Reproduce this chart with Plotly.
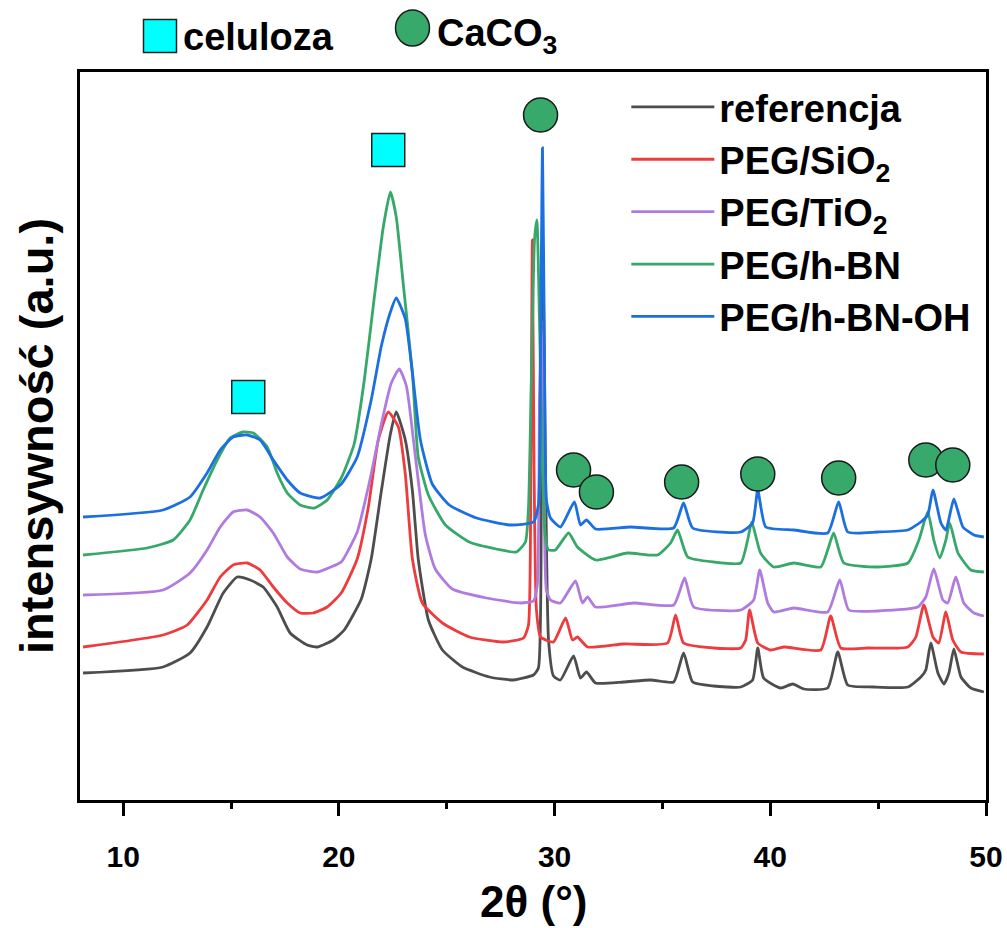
import plotly.graph_objects as go

# ---- data (2theta in degrees, intensity in a.u.) ----
ref_x = [8.14, 11.85, 13.10, 13.89, 14.64, 15.29, 15.89, 16.49, 17.14, 17.74, 18.53, 19.00, 19.74,
         20.25, 21.04, 21.50, 21.97, 22.39, 22.66, 23.08, 23.41, 23.68, 24.15, 24.80, 25.73, 26.98,
         28.09, 29.02, 29.25, 29.39, 29.48, 29.58, 29.72, 29.95, 30.27, 30.88, 31.20, 31.48, 31.90,
         33.20, 34.45, 35.52, 35.98, 36.40, 37.37, 38.63, 39.18, 39.42, 39.69, 40.48, 41.04, 41.55,
         42.66, 43.13, 43.59, 44.80, 46.38, 46.98, 47.21, 47.44, 47.77, 48.05, 48.28, 48.51, 48.84,
         49.30, 49.90]
ref_y = [127, 133, 147, 173, 207, 223, 220, 213, 193, 167, 155, 153, 160,
         170, 201, 241, 309, 366, 388, 360, 309, 241, 180, 150, 133, 123,
         120, 125, 132, 330, 520, 330, 160, 124, 120, 144, 122, 128, 117,
         118, 120, 118, 147, 118, 114, 113, 120, 152, 122, 112, 116, 111,
         112, 148, 115, 113, 113, 123, 130, 157, 127, 116, 127, 151, 123,
         112, 108]

sio2_x = [8.14, 11.85, 12.97, 13.89, 14.50, 15.10, 15.75, 16.35, 16.96, 17.61, 18.21, 18.81, 19.46,
          20.11, 20.85, 21.36, 21.83, 22.29, 22.76, 23.08, 23.41, 23.87, 24.80, 26.05, 27.63, 28.56,
          28.79, 28.90, 28.97, 29.05, 29.16, 29.35, 29.95, 30.51, 30.83, 31.06, 31.53, 33.20, 35.24,
          35.61, 35.98, 37.37, 38.63, 38.86, 39.04, 39.42, 40.02, 40.62, 42.34, 42.80, 43.27, 44.52,
          46.38, 46.75, 47.12, 47.54, 47.81, 48.14, 48.46, 48.84, 49.90]
sio2_y = [153, 165, 175, 200, 223, 235, 237, 230, 213, 197, 187, 187, 193,
          207, 241, 292, 360, 388, 373, 326, 241, 197, 177, 163, 158, 162,
          175, 330, 560, 330, 190, 163, 158, 182, 160, 163, 153, 156, 157,
          185, 157, 152, 152, 160, 190, 157, 150, 153, 150, 184, 152, 152,
          153, 163, 195, 163, 157, 188, 160, 148, 146]

tio2_x = [8.14, 11.85, 13.10, 13.89, 14.50, 15.10, 15.75, 16.35, 16.96, 17.61, 18.21, 19.00, 19.74,
          20.11, 20.85, 21.50, 21.97, 22.43, 22.80, 23.13, 23.55, 24.01, 24.47, 25.26, 26.84, 28.42,
          29.02, 29.20, 29.30, 29.39, 29.48, 29.62, 29.81, 30.27, 30.97, 31.29, 31.53, 31.90, 33.66,
          35.52, 36.03, 36.45, 38.63, 39.23, 39.51, 39.88, 40.16, 41.09, 42.66, 43.22, 43.64, 44.98,
          46.84, 47.21, 47.58, 48.00, 48.23, 48.60, 48.97, 49.44, 49.90]
tio2_y = [205, 210, 227, 250, 273, 288, 290, 283, 267, 243, 231, 228, 234,
          238, 268, 326, 376, 417, 431, 414, 343, 265, 231, 211, 202, 197,
          199, 215, 400, 480, 400, 210, 200, 197, 219, 197, 203, 193, 197,
          195, 222, 193, 190, 200, 230, 197, 188, 192, 188, 220, 190, 189,
          193, 203, 231, 200, 197, 223, 197, 187, 184]

hbn_x = [8.14, 11.11, 12.32, 13.10, 13.71, 14.36, 14.96, 15.56, 16.03, 16.68, 17.14, 17.61, 18.21,
         18.86, 19.46, 20.11, 20.71, 21.18, 21.64, 22.06, 22.39, 22.66, 22.99, 23.41, 23.68, 24.15,
         24.94, 26.05, 27.30, 28.23, 28.65, 28.79, 28.95, 29.07, 29.18, 29.30, 29.44, 29.58, 29.72,
         30.04, 30.65, 31.06, 31.90, 33.38, 34.77, 35.38, 35.70, 36.17, 37.37, 38.63, 38.95, 39.14,
         39.55, 40.16, 41.09, 42.34, 42.66, 42.94, 43.41, 44.98, 46.38, 46.89, 47.30, 47.58, 47.86,
         48.14, 48.32, 48.70, 49.30, 49.90]
hbn_y = [245, 252, 260, 280, 310, 340, 362, 368, 367, 353, 327, 307, 295,
         292, 300, 322, 356, 420, 502, 573, 608, 583, 515, 427, 343, 305,
         275, 258, 251, 248, 258, 292, 450, 560, 580, 480, 330, 262, 250,
         250, 267, 253, 240, 247, 245, 257, 270, 243, 238, 237, 260, 278,
         247, 233, 237, 233, 250, 267, 237, 233, 237, 260, 288, 260, 242,
         260, 277, 247, 230, 228]

hbnoh_x = [8.14, 11.85, 13.10, 13.89, 14.50, 15.10, 15.75, 16.35, 16.96, 17.61, 18.21, 19.14, 20.11,
           20.85, 21.50, 21.97, 22.39, 22.66, 23.08, 23.41, 23.78, 24.33, 25.12, 26.38, 27.95, 29.02,
           29.25, 29.35, 29.44, 29.53, 29.62, 29.81, 30.27, 30.92, 31.20, 31.48, 31.90, 33.52, 35.52,
           35.98, 36.40, 38.63, 39.18, 39.42, 39.79, 41.09, 42.66, 43.17, 43.59, 44.98, 46.38, 46.98,
           47.30, 47.54, 47.91, 48.14, 48.51, 48.93, 49.44, 49.90]
hbnoh_y = [283, 290, 303, 327, 350, 363, 365, 360, 340, 320, 307, 302, 316,
           343, 400, 454, 488, 502, 481, 427, 360, 316, 295, 282, 275, 278,
           295, 450, 652, 450, 300, 282, 273, 298, 275, 280, 271, 273, 272,
           297, 272, 268, 277, 310, 273, 270, 267, 298, 268, 268, 270, 278,
           285, 310, 277, 270, 301, 273, 265, 263]

series_names = ["referencja", "PEG/SiO<sub>2</sub>", "PEG/TiO<sub>2</sub>", "PEG/h-BN", "PEG/h-BN-OH"]
series_colors = ["#4d4d4d", "#ee3b3e", "#b07be0", "#36a86a", "#1b6fe0"]
series_x = [ref_x, sio2_x, tio2_x, hbn_x, hbnoh_x]
series_y = [ref_y, sio2_y, tio2_y, hbn_y, hbnoh_y]

# peak markers
cel_x = [15.80, 22.29]
cel_y = [403, 650]
caco3_x = [29.35, 30.88, 31.94, 35.89, 39.42, 43.17, 47.21, 48.46]
caco3_y = [685, 330, 308, 318, 326, 322, 340, 335]

FONT = "Liberation Sans, Arial, sans-serif"

fig = go.Figure()
for nm, col, xs, ys in zip(series_names, series_colors, series_x, series_y):
    fig.add_trace(go.Scatter(x=xs, y=ys, mode="lines", name=nm,
                             line=dict(color=col, width=2.8, shape="spline", smoothing=0.5)))

fig.add_trace(go.Scatter(x=cel_x, y=cel_y, mode="markers", showlegend=False,
                         marker=dict(symbol="square", size=33, color="#00ffff",
                                     line=dict(color="#222222", width=1.5))))
fig.add_trace(go.Scatter(x=caco3_x, y=caco3_y, mode="markers", showlegend=False,
                         marker=dict(symbol="circle", size=34, color="#37a96b",
                                     line=dict(color="#1a1a1a", width=1.5))))

# top legend for markers
fig.add_shape(type="rect", xref="paper", yref="paper", xsizemode="pixel", ysizemode="pixel",
              xanchor=0.0883, yanchor=1.0495, x0=-16.5, x1=16.5, y0=-16.5, y1=16.5,
              fillcolor="#00ffff", line=dict(color="#222222", width=1.5))
fig.add_shape(type="circle", xref="paper", yref="paper", xsizemode="pixel", ysizemode="pixel",
              xanchor=0.3670, yanchor=1.0604, x0=-17, x1=17, y0=-18, y1=18,
              fillcolor="#37a96b", line=dict(color="#1a1a1a", width=1.5))
fig.add_annotation(text="<b>celuloza</b>", xref="paper", yref="paper", x=0.1115, y=1.0475,
                   xanchor="left", yanchor="middle", showarrow=False,
                   font=dict(family=FONT, size=38, color="black"))
fig.add_annotation(text="<b>CaCO<sub>3</sub></b>", xref="paper", yref="paper", x=0.3915, y=1.050,
                   xanchor="left", yanchor="middle", showarrow=False,
                   font=dict(family=FONT, size=38, color="black"))
fig.add_annotation(text="<b>intensywność (a.u.)</b>", xref="paper", yref="paper", x=-0.0485, y=0.5,
                   xanchor="center", yanchor="middle", textangle=-90, showarrow=False,
                   font=dict(family=FONT, size=47, color="black"))
fig.add_annotation(text="<b>2θ (°)</b>", xref="paper", yref="paper", x=0.5, y=-0.1395,
                   xanchor="center", yanchor="middle", showarrow=False,
                   font=dict(family=FONT, size=44, color="black"))

fig.update_layout(
    width=1007, height=928,
    margin=dict(l=80, r=21, t=72, b=128, autoexpand=False),
    paper_bgcolor="white", plot_bgcolor="white",
    font=dict(family=FONT, color="black"),
    legend=dict(x=0.603, y=0.995, xanchor="left", yanchor="top",
                font=dict(family=FONT, size=38, color="black", weight="bold"),
                itemwidth=83, bgcolor="rgba(0,0,0,0)", tracegroupgap=0),
    xaxis=dict(range=[8, 50], showline=True, linewidth=2.5, linecolor="black", mirror=True,
               automargin=False,
               ticks="outside", ticklen=13, tickwidth=2.5, tickcolor="black",
               tickvals=[10, 20, 30, 40, 50], showgrid=False, zeroline=False,
               ticklabelstandoff=15,
               tickfont=dict(family=FONT, size=30, color="black", weight="bold"),
               minor=dict(tickvals=[15, 25, 35, 45], ticks="outside", ticklen=6, tickwidth=2.5,
                          tickcolor="black", showgrid=False)),
    yaxis=dict(range=[0, 728], showline=True, linewidth=2.5, linecolor="black", mirror=True,
               automargin=False,
               showticklabels=False, ticks="", showgrid=False, zeroline=False),
)

fig.write_html("out.html")
